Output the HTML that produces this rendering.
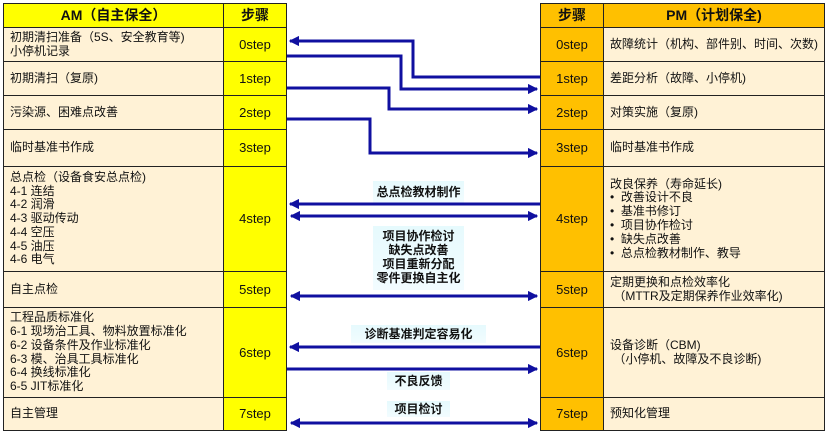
<!DOCTYPE html>
<html><head><meta charset="utf-8"><style>
body{margin:0;width:827px;height:433px;background:#fff;position:relative;overflow:hidden;font-family:"Liberation Sans","Noto Sans CJK SC",sans-serif;font-size:12px;color:#111}
.c{position:absolute;box-sizing:border-box;border:1px solid #222;display:flex;align-items:center;line-height:13.8px;white-space:nowrap}
.t{background:#fff2d6;padding-left:6px}
.y{background:#ffff00;justify-content:center;font-size:13px}
.o{background:#ffc000;justify-content:center;font-size:13px}
.h{font-weight:bold;font-size:14px;justify-content:center}
.lbl{position:absolute;font-weight:bold;font-size:12px;text-align:center;line-height:14px;background:linear-gradient(#e6fafd,#f2fcff);}
</style></head><body>
<!-- left table -->
<div class="c y h" style="left:3px;top:3px;width:221px;height:25px">AM（自主保全）</div>
<div class="c y h" style="left:223px;top:3px;width:64px;height:25px">步骤</div>
<div class="c t" style="left:3px;top:27px;width:221px;height:35px">初期清扫准备（5S、安全教育等)<br>小停机记录</div>
<div class="c y" style="left:223px;top:27px;width:64px;height:35px">0step</div>
<div class="c t" style="left:3px;top:61px;width:221px;height:35px">初期清扫（复原)</div>
<div class="c y" style="left:223px;top:61px;width:64px;height:35px">1step</div>
<div class="c t" style="left:3px;top:95px;width:221px;height:35px">污染源、困难点改善</div>
<div class="c y" style="left:223px;top:95px;width:64px;height:35px">2step</div>
<div class="c t" style="left:3px;top:129px;width:221px;height:38px">临时基准书作成</div>
<div class="c y" style="left:223px;top:129px;width:64px;height:38px">3step</div>
<div class="c t" style="left:3px;top:166px;width:221px;height:106px">总点检（设备食安总点检)<br>4-1 连结<br>4-2 润滑<br>4-3 驱动传动<br>4-4 空压<br>4-5 油压<br>4-6 电气</div>
<div class="c y" style="left:223px;top:166px;width:64px;height:106px">4step</div>
<div class="c t" style="left:3px;top:271px;width:221px;height:37px">自主点检</div>
<div class="c y" style="left:223px;top:271px;width:64px;height:37px">5step</div>
<div class="c t" style="left:3px;top:307px;width:221px;height:91px">工程品质标准化<br>6-1 现场治工具、物料放置标准化<br>6-2 设备条件及作业标准化<br>6-3 模、治具工具标准化<br>6-4 换线标准化<br>6-5 JIT标准化</div>
<div class="c y" style="left:223px;top:307px;width:64px;height:91px">6step</div>
<div class="c t" style="left:3px;top:397px;width:221px;height:34px">自主管理</div>
<div class="c y" style="left:223px;top:397px;width:64px;height:34px">7step</div>
<!-- right table -->
<div class="c o h" style="left:540px;top:3px;width:64px;height:25px">步骤</div>
<div class="c o h" style="left:603px;top:3px;width:222px;height:25px">PM（计划保全)</div>
<div class="c o" style="left:540px;top:27px;width:64px;height:35px">0step</div>
<div class="c t" style="left:603px;top:27px;width:222px;height:35px">故障统计（机构、部件别、时间、次数)</div>
<div class="c o" style="left:540px;top:61px;width:64px;height:35px">1step</div>
<div class="c t" style="left:603px;top:61px;width:222px;height:35px">差距分析（故障、小停机)</div>
<div class="c o" style="left:540px;top:95px;width:64px;height:35px">2step</div>
<div class="c t" style="left:603px;top:95px;width:222px;height:35px">对策实施（复原)</div>
<div class="c o" style="left:540px;top:129px;width:64px;height:38px">3step</div>
<div class="c t" style="left:603px;top:129px;width:222px;height:38px">临时基准书作成</div>
<div class="c o" style="left:540px;top:166px;width:64px;height:106px">4step</div>
<div class="c t" style="left:603px;top:166px;width:222px;height:106px"><div>改良保养（寿命延长)<br>•&nbsp;&nbsp;改善设计不良<br>•&nbsp;&nbsp;基准书修订<br>•&nbsp;&nbsp;项目协作检讨<br>•&nbsp;&nbsp;缺失点改善<br>•&nbsp;&nbsp;总点检教材制作、教导</div></div>
<div class="c o" style="left:540px;top:271px;width:64px;height:37px">5step</div>
<div class="c t" style="left:603px;top:271px;width:222px;height:37px">定期更换和点检效率化<br>&nbsp;（MTTR及定期保养作业效率化)</div>
<div class="c o" style="left:540px;top:307px;width:64px;height:91px">6step</div>
<div class="c t" style="left:603px;top:307px;width:222px;height:91px">设备诊断（CBM)<br>&nbsp;（小停机、故障及不良诊断)</div>
<div class="c o" style="left:540px;top:397px;width:64px;height:34px">7step</div>
<div class="c t" style="left:603px;top:397px;width:222px;height:34px">预知化管理</div>
<!-- labels -->
<div class="lbl" style="left:373px;top:181px;width:91px;height:22px;line-height:22px">总点检教材制作</div>
<div class="lbl" style="left:373px;top:226px;width:91px;height:64px;padding-top:3px;box-sizing:border-box">项目协作检讨<br>缺失点改善<br>项目重新分配<br>零件更换自主化</div>
<div class="lbl" style="left:351px;top:325px;width:135px;height:18px;line-height:18px">诊断基准判定容易化</div>
<div class="lbl" style="left:387px;top:372px;width:63px;height:18px;line-height:18px">不良反馈</div>
<div class="lbl" style="left:387px;top:401px;width:63px;height:16px;line-height:16px">项目检讨</div>
<svg style="position:absolute;left:0;top:0" width="827" height="433">
<defs><marker id="a" markerWidth="3.4" markerHeight="3.4" refX="3" refY="1.7" orient="auto-start-reverse" markerUnits="strokeWidth"><path d="M0,0 L3.4,1.7 L0,3.4z" fill="#1010a0"/></marker></defs>
<g stroke="#1010a0" stroke-width="3" fill="none">
<polyline points="540,77 413,77 413,41 290,41" marker-end="url(#a)"/>
<polyline points="287,56 401,56 401,89 537,89" marker-end="url(#a)"/>
<polyline points="287,88 389,88 389,109 537,109" marker-end="url(#a)"/>
<polyline points="287,119 370,119 370,153 537,153" marker-end="url(#a)"/>
<line x1="540" y1="204" x2="290" y2="204" marker-end="url(#a)"/>
<line x1="291" y1="216" x2="537" y2="216" marker-start="url(#a)" marker-end="url(#a)"/>
<line x1="291" y1="296" x2="537" y2="296" marker-start="url(#a)" marker-end="url(#a)"/>
<line x1="540" y1="347" x2="290" y2="347" marker-end="url(#a)"/>
<line x1="287" y1="369" x2="537" y2="369" marker-end="url(#a)"/>
<line x1="291" y1="423" x2="537" y2="423" marker-start="url(#a)" marker-end="url(#a)"/>
</g></svg>
</body></html>
